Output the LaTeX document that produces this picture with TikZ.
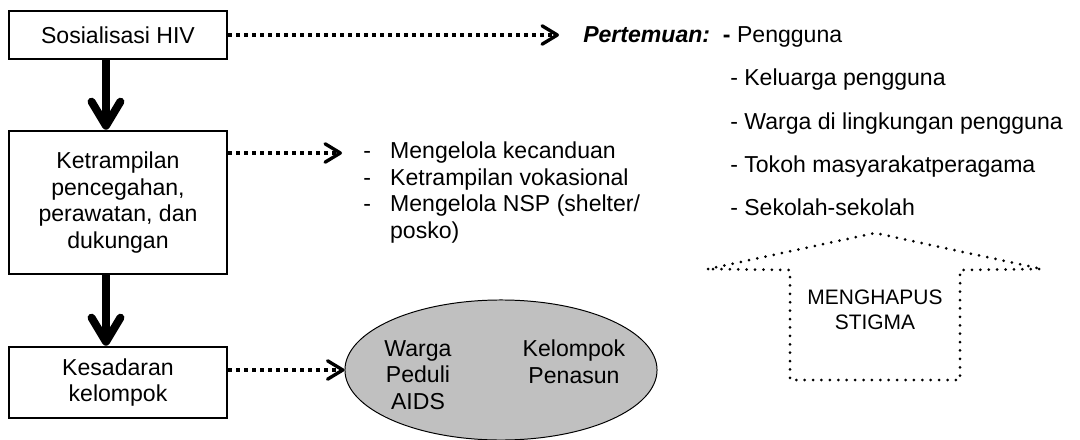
\documentclass[tikz,border=0pt]{standalone}
\usepackage{fontspec}
\setmainfont{Liberation Sans}
\usetikzlibrary{arrows.meta,shapes.geometric}
\definecolor{ovalgray}{HTML}{C0C0C0}

\newcommand{\bigtext}{\fontsize{16.4}{18.95}\selectfont}
\newcommand{\smalltext}{\fontsize{14.9}{17.8}\selectfont}

\tikzset{
  stagebox/.style={draw,line width=1.8pt,minimum width=5.45cm,align=center,inner sep=0pt},
  bigarrow/.style={line width=5.7pt,-{Straight Barb[round,length=0.6cm,width=0.72cm]}},
  dotarrow/.style={line width=2.4pt,dash pattern=on 0.085cm off 0.115cm,
    -{Straight Barb[round,length=0.38cm,width=0.46cm]}},
  stigmaline/.style={line width=0.075cm,line cap=round,dash pattern=on 0pt off 0.21cm},
  item/.style={anchor=base west,inner sep=0pt},
}

\begin{document}
\begin{tikzpicture}[x=0.025cm,y=-0.025cm,font=\bigtext]
\useasboundingbox (0,0) rectangle (1080,440);

% tahapan
\node[stagebox,minimum height=1.2cm] (sos) at (118,35) {Sosialisasi HIV};
\node[stagebox,minimum height=3.575cm] (ket) at (118,202.5)
  {Ketrampilan\\pencegahan,\\perawatan, dan\\dukungan};
\node[stagebox,minimum height=1.775cm] (kes) at (118,382.5) {Kesadaran\\kelompok};

\draw[bigarrow] ([xshift=-0.3cm]sos.south) -- ([xshift=-0.3cm]ket.north);
\draw[bigarrow] ([xshift=-0.3cm]ket.south) -- ([xshift=-0.3cm]kes.north);

% pertemuan
\coordinate (tipA) at (559,35);
\draw[dotarrow] (sos.east) -- (tipA);
\node[item] (pert) at (583,42.5) {\textbf{\textit{Pertemuan:}}\ \ \textbf{-} Pengguna};
\foreach \t [count=\i] in {Keluarga pengguna,Warga di lingkungan pengguna,
    Tokoh masyarakatperagama,Sekolah-sekolah}
  \node[item] (p\i) at (730,42.5+43.3*\i) {- \t};

% ketrampilan
\coordinate (tipB) at (342,153);
\draw[dotarrow] (ket.east |- tipB) -- (tipB);
\node[anchor=west,inner sep=0pt] (skill) at (363,193)
  {\begin{tabular}{@{}l@{\hspace{0.48cm}}l@{}}
   - & Mengelola kecanduan\\
   - & Ketrampilan vokasional\\
   - & Mengelola NSP (shelter/\\
     & posko)
   \end{tabular}};

% kelompok
\node[ellipse,draw,line width=0.7pt,fill=ovalgray,minimum width=7.8cm,
  minimum height=3.5cm,inner sep=0pt] (grp) at (501,370) {};
\draw[dotarrow] (kes.east |- grp.west) -- (grp.west);
\node[align=center,inner sep=0pt] (wpa) at (418,375) {Warga\\Peduli\\AIDS};
\node[align=center,inner sep=0pt] (kpn) at (574,361.5) {Kelompok\\Penasun};

% stigma
\draw[stigmaline] (708,269) -- (875,233) -- (1042,269) -- (960,270)
  -- (960,380) -- (790,380) -- (790,270) -- cycle;
\node[font=\smalltext,align=center,inner sep=0pt] (stig) at (875,309.5) {MENGHAPUS\\STIGMA};
\end{tikzpicture}
\end{document}
